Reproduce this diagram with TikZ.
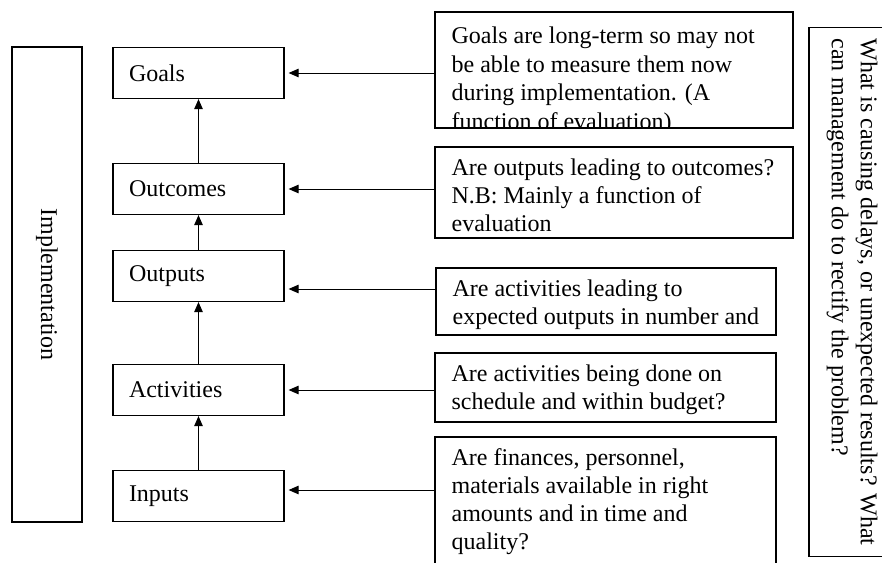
\documentclass[tikz,border=0pt]{standalone}
\usepackage{fontspec}
\setmainfont{Liberation Serif}
\usetikzlibrary{arrows.meta}

\begin{document}
\begin{tikzpicture}[x=1pt, y=-1pt,
    stufe/.style={draw, line width=1.2pt, minimum width=171, minimum height=51, text width=139, inner xsep=16, align=left, font=\fontsize{24}{28}\selectfont},
    frage/.style={draw, line width=1.2pt, inner sep=0pt},
    ftext/.style={anchor=north west, align=left, inner xsep=17, inner ysep=9, font=\fontsize{24}{28}\selectfont},
    seite/.style={draw, line width=1.2pt, rotate=-90, align=left, font=\fontsize{24}{29}\selectfont},
    pfeil/.style={-{Triangle[length=10pt, width=8.5pt]}, line width=1pt},
]

\useasboundingbox (0,0) rectangle (882,562);

\node [seite, minimum width=475, minimum height=70] (impl) at (47,284.5){Implementation};

\node [stufe] (goals) at (198.5,73){Goals};
\node [stufe] (outcomes) at (198.5,189){Outcomes};
\node [stufe] (outputs) at (198.5,276){Outputs};
\node [stufe] (activities) at (198.5,390){Activities};
\node [stufe] (inputs) at (198.5,496){Inputs};

\draw [pfeil] (inputs) -- (activities);
\draw [pfeil] (activities) -- (outputs);
\draw [pfeil] (outputs) -- (outcomes);
\draw [pfeil] (outcomes) -- (goals);

\node [frage, minimum width=358, minimum height=116] (goalq) at (614,70){};
\node [frage, minimum width=358, minimum height=91] (outcq) at (614,192.5){};
\node [frage, minimum width=340, minimum height=67] (outq) at (606,301.5){};
\node [frage, minimum width=341, minimum height=69] (actq) at (605.5,387.5){};
\node [frage, minimum width=341, minimum height=140] (inq) at (605.5,507){};

\begin{scope}
\clip (goalq.north west) rectangle (goalq.south east);
\node [ftext, inner ysep=12, font=\fontsize{24}{28.5}\selectfont] (goalt) at (goalq.north west){\strut Goals are long-term so may not\\be able to measure them now\\during implementation. (A\\function of evaluation)};
\end{scope}

\node [ftext] (outct) at (outcq.north west){\strut Are outputs leading to outcomes?\\N.B: Mainly a function of\\evaluation};
\node [ftext] (outt) at (outq.north west){\strut Are activities leading to\\expected outputs in number and};
\node [ftext] (actt) at (actq.north west){\strut Are activities being done on\\schedule and within budget?};
\node [ftext] (int) at (inq.north west){\strut Are finances, personnel,\\materials available in right\\amounts and in time and\\quality?};

\coordinate (outp) at ([yshift=12.5pt]outq.west);
\coordinate (inp) at ([yshift=6pt]inputs.east);

\draw [pfeil, shorten >=4pt] (goalq.west |- goals) -- (goals);
\draw [pfeil, shorten >=4pt] (outcq.west |- outcomes) -- (outcomes);
\draw [pfeil, shorten >=4pt] (outp) -- (outp -| outputs.east);
\draw [pfeil, shorten >=4pt] (actq.west |- activities) -- (activities);
\draw [pfeil, shorten >=4pt] (inp -| inq.west) -- (inp);

\node [seite, minimum width=526, minimum height=86, inner xsep=11] (side) at (852,292){What is causing delays, or unexpected results? What\\can management do to rectify the problem?};

\end{tikzpicture}
\end{document}
